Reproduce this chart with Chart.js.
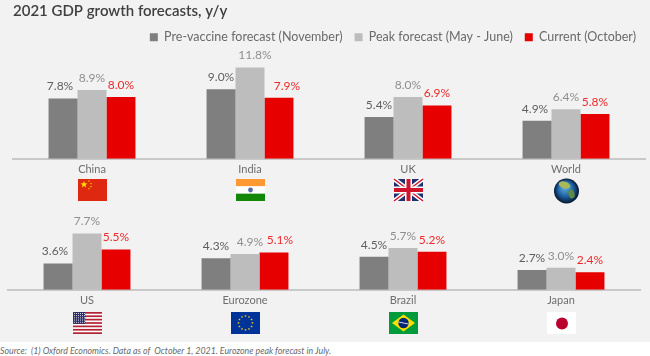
<!DOCTYPE html>
<html>
<head>
<meta charset="utf-8">
<script src="https://cdn.jsdelivr.net/npm/chart.js@4"></script>
<style>
  html, body { margin: 0; padding: 0; background: #fff; }
  #wrap { position: relative; width: 650px; height: 356px; overflow: hidden; background: #fff; }
  #panel { position: absolute; left: 0; top: 0; width: 650px; height: 342px; background: #f2f2f2; }
  #topBox { position: absolute; left: 0; top: 0; width: 650px; height: 206px; }
  #bottomBox { position: absolute; left: 0; top: 206px; width: 650px; height: 134px; }
  #source { position: absolute; left: 0; top: 345px; font: italic 8.8px Lato, sans-serif; color: #6a6a6a; white-space: pre; }
</style>
</head>
<body>
<div id="wrap">
  <div id="panel"></div>
  <div id="topBox"><canvas id="topChart"></canvas></div>
  <div id="bottomBox"><canvas id="bottomChart"></canvas></div>
  <div id="source">Source:  (1) Oxford Economics. Data as of  October 1, 2021. Eurozone peak forecast in July.</div>
</div>
<script>
const topCategories = ['China', 'India', 'UK', 'World'];
const topPreVaccine = [7.8, 9.0, 5.4, 4.9];
const topPeak = [8.9, 11.8, 8.0, 6.4];
const topCurrent = [8.0, 7.9, 6.9, 5.8];

const bottomCategories = ['US', 'Eurozone', 'Brazil', 'Japan'];
const bottomPreVaccine = [3.6, 4.3, 4.5, 2.7];
const bottomPeak = [7.7, 4.9, 5.7, 3.0];
const bottomCurrent = [5.5, 5.1, 5.2, 2.4];

const seriesNames = ['Pre-vaccine forecast (November)', 'Peak forecast (May - June)', 'Current (October)'];
const barColors = ['#7f7f7f', '#bdbdbd', '#e60000'];
const labelColors = ['#5f5f5f', '#8f8f8f', '#ee2a2a'];
const FONT = 'Lato, sans-serif';

// labels that were moved sideways by hand in the original
const labelNudge = {
  China: [-3, 0, 0],
  India: [0, 5, 8],
  World: [-2, 0, 0],
  US: [-3, 0, 0],
  Eurozone: [0, 5, 6]
};

const star = (ctx, x, y, r, color) => {
  ctx.fillStyle = color;
  ctx.beginPath();
  for (let i = 0; i < 10; i++) {
    const a = -Math.PI / 2 + i * Math.PI / 5;
    const rad = i % 2 ? r * 0.42 : r;
    ctx.lineTo(x + rad * Math.cos(a), y + rad * Math.sin(a));
  }
  ctx.closePath();
  ctx.fill();
};

const line = (ctx, x1, y1, x2, y2, w, color) => {
  ctx.strokeStyle = color;
  ctx.lineWidth = w;
  ctx.beginPath();
  ctx.moveTo(x1, y1);
  ctx.lineTo(x2, y2);
  ctx.stroke();
};

// flags are plain decoration, w=29 h=22
const flags = {
  China(ctx, w, h) {
    ctx.fillStyle = '#de2910';
    ctx.fillRect(0, 0, w, h);
    star(ctx, 6, 5.5, 3.6, '#ffde00');
    [[11, 2], [13, 4.5], [13, 7.5], [11, 9.5]].forEach(p => star(ctx, p[0], p[1], 1.1, '#ffde00'));
  },
  India(ctx, w, h) {
    ctx.fillStyle = '#ff9933';
    ctx.fillRect(0, 0, w, h / 3);
    ctx.fillStyle = '#ffffff';
    ctx.fillRect(0, h / 3, w, h / 3);
    ctx.fillStyle = '#138808';
    ctx.fillRect(0, 2 * h / 3, w, h / 3);
    ctx.fillStyle = '#5a68a8';
    ctx.beginPath();
    ctx.arc(w / 2, h / 2, 2.4, 0, Math.PI * 2);
    ctx.fill();
  },
  UK(ctx, w, h) {
    ctx.fillStyle = '#1f2f6f';
    ctx.fillRect(0, 0, w, h);
    line(ctx, 0, 0, w, h, 4.5, '#ffffff');
    line(ctx, w, 0, 0, h, 4.5, '#ffffff');
    line(ctx, 0, 0, w, h, 1.5, '#cf142b');
    line(ctx, w, 0, 0, h, 1.5, '#cf142b');
    line(ctx, w / 2, 0, w / 2, h, 7, '#ffffff');
    line(ctx, 0, h / 2, w, h / 2, 7, '#ffffff');
    line(ctx, w / 2, 0, w / 2, h, 4, '#cf142b');
    line(ctx, 0, h / 2, w, h / 2, 4, '#cf142b');
  },
  World(ctx, w, h) {
    const cx = w / 2, cy = h / 2 + 1, r = 12.5;
    const g = ctx.createRadialGradient(cx - 2, cy - 5, 1, cx, cy, r);
    g.addColorStop(0, '#5fb4e6');
    g.addColorStop(0.6, '#1c5f9e');
    g.addColorStop(1, '#06152e');
    ctx.fillStyle = g;
    ctx.beginPath();
    ctx.arc(cx, cy, r, 0, Math.PI * 2);
    ctx.fill();
    ctx.fillStyle = '#a9b85a';
    ctx.beginPath();
    ctx.ellipse(cx - 2, cy - 6, 6, 3.5, 0.3, 0, Math.PI * 2);
    ctx.fill();
    ctx.fillStyle = '#5f8a44';
    ctx.beginPath();
    ctx.ellipse(cx + 5, cy + 3, 3, 4.5, -0.3, 0, Math.PI * 2);
    ctx.fill();
  },
  US(ctx, w, h) {
    ctx.fillStyle = '#ffffff';
    ctx.fillRect(0, 0, w, h);
    ctx.fillStyle = '#b22234';
    for (let i = 0; i < 13; i += 2) ctx.fillRect(0, i * h / 13, w, h / 13);
    ctx.fillStyle = '#2c2f6b';
    ctx.fillRect(0, 0, w * 0.42, h * 7 / 13);
    ctx.fillStyle = '#ffffff';
    for (let r = 0; r < 5; r++) {
      for (let c = 0; c < 6; c++) ctx.fillRect(1 + c * 2, 1 + r * 2.2, 0.9, 0.9);
    }
  },
  Eurozone(ctx, w, h) {
    ctx.fillStyle = '#003399';
    ctx.fillRect(0, 0, w, h);
    for (let i = 0; i < 12; i++) {
      const a = i * Math.PI / 6;
      star(ctx, w / 2 + 7 * Math.cos(a), h / 2 + 7 * Math.sin(a), 1.3, '#ffcc00');
    }
  },
  Brazil(ctx, w, h) {
    ctx.fillStyle = '#009b3a';
    ctx.fillRect(0, 0, w, h);
    ctx.fillStyle = '#fedf00';
    ctx.beginPath();
    ctx.moveTo(w / 2, 2.5);
    ctx.lineTo(w - 3, h / 2);
    ctx.lineTo(w / 2, h - 2.5);
    ctx.lineTo(3, h / 2);
    ctx.closePath();
    ctx.fill();
    ctx.fillStyle = '#002776';
    ctx.beginPath();
    ctx.arc(w / 2, h / 2, 5.2, 0, Math.PI * 2);
    ctx.fill();
    line(ctx, w / 2 - 5, h / 2 - 1, w / 2 + 5, h / 2 + 1, 0.8, '#ffffff');
  },
  Japan(ctx, w, h) {
    ctx.fillStyle = '#ffffff';
    ctx.fillRect(0, 0, w, h);
    ctx.fillStyle = '#bc002d';
    ctx.beginPath();
    ctx.arc(w / 2 + 0.5, h / 2 + 0.5, 6, 0, Math.PI * 2);
    ctx.fill();
  }
};

const flagPlugin = {
  id: 'flagRow',
  afterDraw(chart, args, opts) {
    const { ctx, scales: { x } } = chart;
    const top = Math.round(chart.chartArea.bottom + opts.gap);
    chart.data.labels.forEach((name, i) => {
      const left = Math.round(x.getPixelForValue(i) - 14.5);
      ctx.save();
      ctx.translate(left, top);
      flags[name](ctx, 29, 22);
      ctx.restore();
    });
  }
};

const valueLabelPlugin = {
  id: 'valueLabels',
  afterDatasetsDraw(chart) {
    const { ctx } = chart;
    ctx.save();
    ctx.textAlign = 'center';
    ctx.textBaseline = 'bottom';
    ctx.font = '400 12px ' + FONT;
    chart.data.datasets.forEach((ds, d) => {
      ctx.fillStyle = labelColors[d];
      chart.getDatasetMeta(d).data.forEach((bar, i) => {
        const nudge = labelNudge[chart.data.labels[i]];
        ctx.fillText(ds.data[i].toFixed(1) + '%', bar.x + (nudge ? nudge[d] : 0), bar.y - 6);
      });
    });
    ctx.restore();
  }
};

// moves the legend up and right, the layout boxes can't get it there
const legendNudgePlugin = {
  id: 'legendNudge',
  afterLayout(chart) {
    if (!chart.legend || !chart.options.plugins.legend.display) return;
    chart.legend.right += 3;
    chart.legend.top -= 7;
    chart.legend.bottom -= 7;
  }
};

const makeChart = (id, categories, pre, peak, current, opts) => new Chart(document.getElementById(id), {
  type: 'bar',
  data: {
    labels: categories,
    datasets: [pre, peak, current].map((values, i) => ({
      label: seriesNames[i],
      data: values,
      backgroundColor: barColors[i],
      categoryPercentage: 0.55,
      barPercentage: 1
    }))
  },
  options: {
    responsive: true,
    maintainAspectRatio: false,
    animation: false,
    layout: { padding: opts.padding },
    scales: {
      x: {
        grid: { display: false, drawTicks: false },
        border: { color: '#c9c9c9', width: 2 },
        ticks: { color: '#6e6e6e', font: { family: FONT, size: 11 }, padding: 4 }
      },
      y: { display: false, min: 0, max: opts.yMax }
    },
    plugins: {
      tooltip: { enabled: false },
      title: opts.title,
      legend: opts.legend,
      flagRow: { gap: opts.flagGap }
    }
  },
  plugins: [valueLabelPlugin, flagPlugin, legendNudgePlugin]
});

Chart.defaults.font.family = FONT;

makeChart('topChart', topCategories, topPreVaccine, topPeak, topCurrent, {
  padding: { left: 13, right: 5, top: 0, bottom: 26 },
  yMax: 12.7,
  flagGap: 20,
  title: {
    display: true,
    text: '2021 GDP growth forecasts, y/y',
    align: 'start',
    color: '#404040',
    font: { family: FONT, size: 15, weight: '600' },
    padding: { top: 2, bottom: 6 }
  },
  legend: {
    display: true,
    position: 'top',
    align: 'end',
    labels: {
      color: '#6a6a6a',
      font: { family: FONT, size: 12.5 },
      boxWidth: 8,
      boxHeight: 8,
      padding: 12
    }
  }
});

makeChart('bottomChart', bottomCategories, bottomPreVaccine, bottomPeak, bottomCurrent, {
  padding: { left: 8, right: 10, top: 0, bottom: 29 },
  yMax: 11.45,
  flagGap: 22,
  title: { display: false },
  legend: { display: false }
});
</script>
</body>
</html>
